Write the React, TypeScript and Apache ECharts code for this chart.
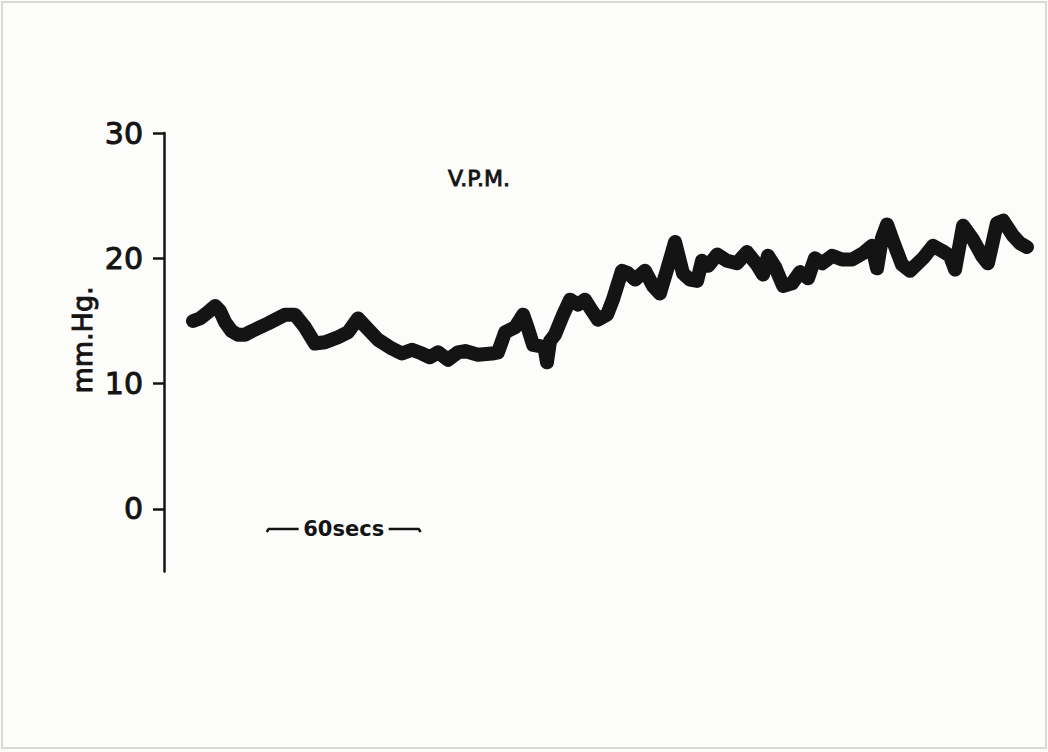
import React, { useEffect, useRef } from "react";
import * as echarts from "echarts";

// Recording time (s) and ventricular pressure (mm Hg) along the trace
const TIME_S = [
  11.3, 14.0, 17.1, 19.9, 21.8, 23.8, 26.3, 28.8, 31.5, 34.3, 40.5, 47.1, 51.0, 54.9,
  58.8, 62.7, 67.8, 71.7, 75.6, 78.3, 83.4, 88.8, 92.7, 96.6, 100.5, 103.6, 106.8,
  110.6, 114.5, 117.3, 122.3, 127.8, 130.1, 132.9, 136.8, 139.9, 141.8, 143.8, 146.5,
  148.4, 149.2, 150.4, 152.3, 155.5, 158.2, 161.3, 164.0, 166.8, 169.1, 172.6, 174.9,
  178.4, 180.8, 183.5, 187.4, 190.5, 193.2, 196.0, 199.1, 202.2, 204.9, 207.7, 209.6,
  212.0, 215.5, 219.4, 223.2, 227.1, 231.0, 233.4, 235.3, 238.1, 241.2, 244.7, 247.8,
  250.9, 253.6, 256.4, 260.3, 264.2, 268.1, 272.3, 275.8, 277.8, 279.7, 281.7, 284.0,
  287.5, 290.6, 295.7, 299.6, 303.1, 306.2, 308.2, 311.3, 315.2, 318.7, 321.0, 324.5,
  326.9, 330.8, 333.5, 336.2,
];
const PRESSURE_MMHG = [
  15.0, 15.2, 15.7, 16.2, 15.8, 14.9, 14.2, 13.9, 13.9, 14.2, 14.8, 15.5, 15.5, 14.5,
  13.2, 13.3, 13.7, 14.1, 15.2, 14.6, 13.5, 12.8, 12.4, 12.7, 12.4, 12.1, 12.5,
  11.9, 12.5, 12.6, 12.3, 12.4, 12.5, 14.1, 14.5, 15.5, 14.4, 13.1, 13.0,
  12.7, 11.7, 13.4, 13.9, 15.5, 16.7, 16.3, 16.7, 15.8, 15.1, 15.5, 16.7,
  19.0, 18.8, 18.3, 19.0, 17.8, 17.2, 19.1, 21.3, 18.8, 18.3, 18.2, 19.8,
  19.4, 20.3, 19.8, 19.6, 20.5, 19.5, 18.7, 20.2, 19.3, 17.8, 18.0, 18.9,
  18.4, 20.0, 19.6, 20.2, 19.9, 19.9, 20.4, 21.0, 19.2, 21.6, 22.7, 21.4,
  19.5, 19.0, 20.0, 21.0, 20.6, 20.2, 19.1, 22.6, 21.5, 20.2, 19.6, 22.8,
  23.0, 21.8, 21.2, 20.9,
];

// Pressure axis
const Y_MIN = -5;
const Y_MAX = 30;
const Y_TICKS = [0, 10, 20, 30];

// Time axis extent and the 60 s scale bar
const X_MAX_S = 340;
const SCALE_BAR_START_S = 40;
const SCALE_BAR_LENGTH_S = 60;
const SCALE_BAR_LEVEL = -1.6;
const SCALE_BAR_LABEL = "60secs";

const FONT = "DejaVu Sans, Arial, sans-serif";
const INK = "#141414";
const PAPER = "#fcfcfb";

export default function App() {
  const ref = useRef<HTMLDivElement>(null);

  useEffect(() => {
    if (!ref.current) return;
    const chart = echarts.init(ref.current, undefined, { renderer: "svg" });

    const trace = TIME_S.map((t, i) => [t, PRESSURE_MMHG[i]]);

    chart.setOption({
      animation: false,
      backgroundColor: PAPER,
      grid: { left: 164, top: 133, width: 872.7, height: 438.6 },
      xAxis: { type: "value", min: 0, max: X_MAX_S, show: false },
      yAxis: {
        type: "value",
        min: Y_MIN,
        max: Y_MAX,
        axisLine: { show: true, lineStyle: { color: INK, width: 2.5 } },
        axisTick: {
          show: true,
          length: 11,
          customValues: Y_TICKS,
          lineStyle: { color: INK, width: 2.5 },
        },
        axisLabel: {
          customValues: Y_TICKS,
          fontSize: 30,
          fontFamily: FONT,
          color: INK,
          textBorderColor: INK,
          textBorderWidth: 1,
          margin: 21,
        },
        splitLine: { show: false },
      },
      series: [
        {
          type: "line",
          data: trace,
          showSymbol: false,
          lineStyle: { color: INK, width: 14, join: "round", cap: "round" },
        },
      ],
    });

    const [x0, yBar] = chart.convertToPixel({ gridIndex: 0 }, [SCALE_BAR_START_S, SCALE_BAR_LEVEL]);
    const [x1] = chart.convertToPixel({ gridIndex: 0 }, [
      SCALE_BAR_START_S + SCALE_BAR_LENGTH_S,
      SCALE_BAR_LEVEL,
    ]);
    const mid = (x0 + x1) / 2;

    chart.setOption({
      graphic: [
        {
          type: "rect",
          shape: { x: 2, y: 2, width: 1044, height: 746 },
          style: { fill: "none", stroke: "#d8d8d6", lineWidth: 2 },
          silent: true,
        },
        {
          type: "text",
          x: 479,
          y: 178,
          style: {
            text: "V.P.M.",
            font: `22px ${FONT}`,
            fill: INK,
            stroke: INK,
            lineWidth: 0.9,
            textAlign: "center",
            textVerticalAlign: "middle",
          },
        },
        {
          type: "text",
          x: 82,
          y: 340,
          rotation: Math.PI / 2,
          style: {
            text: "mm.Hg.",
            font: `27px ${FONT}`,
            fill: INK,
            stroke: INK,
            lineWidth: 1,
            textAlign: "center",
            textVerticalAlign: "middle",
          },
        },
        {
          type: "polyline",
          shape: {
            points: [
              [x0, yBar + 3],
              [x0 + 2, yBar],
              [x1 - 2, yBar],
              [x1, yBar + 3],
            ],
          },
          style: { stroke: INK, lineWidth: 2.5, fill: "none" },
        },
        {
          type: "rect",
          shape: { x: mid - 45, y: yBar - 11, width: 90, height: 22 },
          style: { fill: PAPER },
        },
        {
          type: "text",
          x: mid,
          y: yBar,
          style: {
            text: SCALE_BAR_LABEL,
            font: `bold 21px ${FONT}`,
            fill: INK,
            textAlign: "center",
            textVerticalAlign: "middle",
          },
        },
      ],
    });

    return () => chart.dispose();
  }, []);

  return (
    <div
      ref={ref}
      style={{ position: "fixed", left: 0, top: 0, width: 1048, height: 752 }}
    />
  );
}
